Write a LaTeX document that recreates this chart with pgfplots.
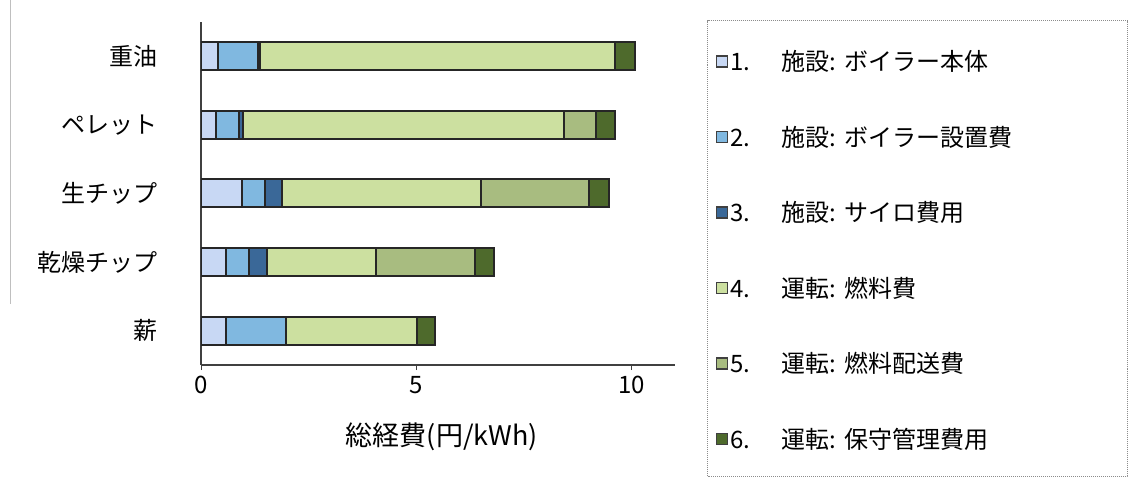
\documentclass[border=0pt]{standalone}
\usepackage{fontspec}
\setmainfont{Noto Sans CJK JP}
\usepackage{pgfplots}
\usepackage{pgfplotstable}
\pgfplotsset{compat=1.18}

\definecolor{c1}{HTML}{C8D8F4}
\definecolor{c2}{HTML}{80B8E0}
\definecolor{c3}{HTML}{3A6898}
\definecolor{c4}{HTML}{CCE0A0}
\definecolor{c5}{HTML}{A8BC80}
\definecolor{c6}{HTML}{4E6A2C}

% y: 0 = 薪 ... 4 = 重油 (cost per kWh, yen)
\pgfplotstableread{
y   s1    s2    s3    s4    s5    s6
0   0.59  1.39  0     3.03  0     0.43
1   0.58  0.54  0.42  2.51  2.32  0.44
2   0.95  0.54  0.40  4.60  2.52  0.45
3   0.35  0.54  0.09  7.45  0.73  0.45
4   0.40  0.93  0.05  8.23  0     0.47
}\costs

\begin{document}
\begin{tikzpicture}
\useasboundingbox (0,0) rectangle (1131bp,479bp);
\draw[black!25, line width=1bp] (10bp,479bp) -- (10bp,175bp);
\begin{axis}[
    at={(201bp,114bp)}, anchor=south west,
    scale only axis,
    width=474bp, height=343bp,
    xbar stacked,
    bar width=28bp,
    xmin=0, xmax=11,
    ymin=-0.5, ymax=4.5,
    axis x line=bottom, axis y line=left,
    axis line style={-, black!75, line width=1.5bp},
    xtick={0,5,10},
    tick align=outside,
    major tick length=5bp,
    x tick style={black!75, line width=1bp},
    ytick={0,1,2,3,4},
    yticklabels={薪, 乾燥チップ, 生チップ, ペレット, 重油},
    y tick style={draw=none},
    /pgf/number format/assume math mode=true,
    tick label style={font=\fontsize{24bp}{26bp}\selectfont},
    xticklabel style={inner sep=0pt, yshift=-6bp},
    yticklabel style={inner sep=0pt, xshift=-38bp},
    xlabel={総経費(円/kWh)},
    xlabel style={font=\fontsize{27bp}{29bp}\selectfont, at={(rel axis cs:0.508,0)}, anchor=center, yshift=-72bp},
    legend cell align=left,
    legend image code/.code={\draw[#1, draw=black!75, line width=1.5bp] (0bp,-7.5bp) rectangle (11bp,3.5bp);},
    legend style={
        at={(rel axis cs:1.0675,1.0058)}, anchor=north west,
        draw=black!45, densely dotted, line width=1bp,
        inner xsep=8bp, inner ysep=28bp,
        row sep=53.5bp,
        font=\fontsize{24bp}{26bp}\selectfont,
        nodes={solid, text width=389bp, text height=22bp, text depth=0pt, inner sep=0pt, align=left},
        /tikz/every odd column/.append style={column sep=2bp},
    },
]
\addplot[fill=c1, draw=black!85, line width=2bp] table[x=s1, y=y] {\costs};
\addplot[fill=c2, draw=black!85, line width=2bp] table[x=s2, y=y] {\costs};
\addplot[fill=c3, draw=black!85, line width=2bp] table[x=s3, y=y] {\costs};
\addplot[fill=c4, draw=black!85, line width=2bp] table[x=s4, y=y] {\costs};
\addplot[fill=c5, draw=black!85, line width=2bp] table[x=s5, y=y] {\costs};
\addplot[fill=c6, draw=black!85, line width=2bp] table[x=s6, y=y] {\costs};
\legend{
    \makebox[52bp][l]{1.}施設:\ ボイラー本体,
    \makebox[52bp][l]{2.}施設:\ ボイラー設置費,
    \makebox[52bp][l]{3.}施設:\ サイロ費用,
    \makebox[52bp][l]{4.}運転:\ 燃料費,
    \makebox[52bp][l]{5.}運転:\ 燃料配送費,
    \makebox[52bp][l]{6.}運転:\ 保守管理費用
}
\end{axis}
\end{tikzpicture}
\end{document}
